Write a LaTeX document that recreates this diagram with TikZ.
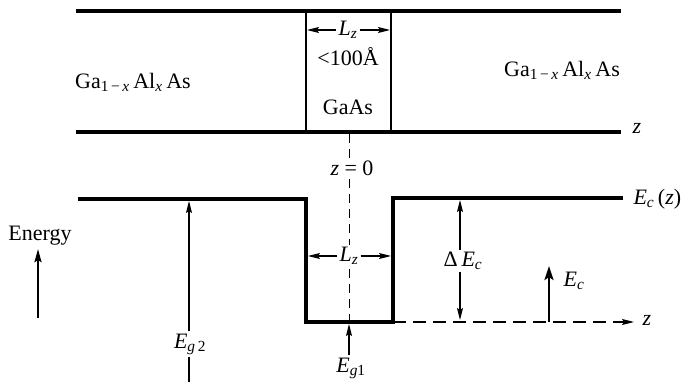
\documentclass[tikz,border=0pt]{standalone}
\usepackage{fontspec}
\setmainfont{Liberation Serif}
\usetikzlibrary{arrows.meta,calc}
\newcommand\mysub[1]{\textsubscript{#1}}
\begin{document}
\begin{tikzpicture}[x=1pt,y=-1pt,
  font=\fontsize{22}{24}\selectfont,
  band/.style={line width=3.3pt, line join=miter},
  wall/.style={line width=1.3pt},
  arr/.style={line width=1.2pt, -{Stealth[length=12pt,width=6pt,inset=2pt]}},
  lbl/.style={inner sep=2pt, fill=white},
  dashline/.style={line width=1pt, dash pattern=on 9pt off 6pt}]
\useasboundingbox (0,0) rectangle (686,382);
\fill[white] (0,0) rectangle (686,382);
% top layer structure
\coordinate (tl) at (76,11); \coordinate (tr) at (621,11);
\coordinate (bl) at (76,132); \coordinate (br) at (621,132);
\coordinate (w1t) at (306,11); \coordinate (w1b) at (306,132);
\coordinate (w2t) at (391,11); \coordinate (w2b) at (391,132);
\draw[band] (tl) -- (tr);
\draw[band] (bl) -- (br);
\draw[wall] (w1t) -- (w1b);
\draw[wall] (w2t) -- (w2b);
\node (gl) at (133,82) {Ga\mysub{1\,−\,\textit{x}}\,Al\mysub{\textit{x}}\,As};
\node (gr) at (562,70) {Ga\mysub{1\,−\,\textit{x}}\,Al\mysub{\textit{x}}\,As};
\node[lbl] (lz1) at (348,30) {\textit{L}\mysub{\textit{z}}};
\coordinate (a1l) at (307,30); \coordinate (a1r) at (390,30);
\draw[arr] (lz1.west) -- (a1l);
\draw[arr] (lz1.east) -- (a1r);
\node (ang) at (348,57) {<100Å};
\node (gaas) at (348,107) {GaAs};
\node (ztop) at (637,128) {\textit{z}};
% dashed z=0 line
\coordinate (d0t) at (349,134); \coordinate (d0b) at (349,322);
\draw[dashline] (d0t) -- (d0b);
\node[lbl] (z0) at (352,168) {\textit{z} = 0};
% band profile
\coordinate (p1) at (78,199); \coordinate (p2) at (306,199);
\coordinate (p3) at (306,322); \coordinate (p4) at (393,322);
\coordinate (p5) at (393,198); \coordinate (p6) at (623,198);
\draw[band] (p1) -- (p2) -- (p3) -- (p4) -- (p5) -- (p6);
\node[anchor=west] (ecz) at (630,199) {\textit{E}\mysub{\textit{c}}\,(\textit{z})};
% z axis dashed
\coordinate (zend) at (634,322);
\draw[line width=1.2pt, dash pattern=on 13pt off 7pt] (p4) -- ($(zend)+(-8,0)$);
\draw[arr] ($(zend)+(-4,0)$) -- (zend);
\node (zbot) at (647,320) {\textit{z}};
% well width
\node[lbl] (lz2) at (349,256) {\textit{L}\mysub{\textit{z}}};
\coordinate (a2l) at (308,256); \coordinate (a2r) at (391,256);
\draw[arr] (lz2.west) -- (a2l);
\draw[arr] (lz2.east) -- (a2r);
% Delta Ec
\node[lbl] (dec) at (463,261) {Δ\,\textit{E}\mysub{\textit{c}}};
\coordinate (dtop) at (460,200); \coordinate (dbot) at (460,320);
\draw[arr] (dtop |- dec.north) -- (dtop);
\draw[arr] (dbot |- dec.south) -- (dbot);
% Ec arrow
\coordinate (ecb) at (549,322); \coordinate (ect) at (549,266);
\draw[line width=2.6pt, -{Stealth[length=14pt,width=9pt,inset=3pt]}] (ecb) -- (ect);
\node (ec) at (574,281) {\textit{E}\mysub{\textit{c}}};
% Energy
\node (en) at (40,236) {Energy};
\coordinate (enb) at (38,318);
\draw[line width=2pt, -{Stealth[length=13pt,width=7pt,inset=2pt]}] (enb) -- (en.south -| enb);
% Eg2
\node[lbl] (eg2) at (190,344) {\textit{E}\mysub{\textit{g}\,2}};
\coordinate (eg2t) at (189,201); \coordinate (eg2b) at (189,382);
\draw[arr] (eg2t |- eg2.north) -- (eg2t);
\draw[line width=1.2pt] (eg2b |- eg2.south) -- (eg2b);
% Eg1
\node[lbl] (eg1) at (351,368) {\textit{E}\mysub{\textit{g}1}};
\coordinate (eg1t) at (349,324);
\draw[arr] (eg1t |- eg1.north) -- (eg1t);
\end{tikzpicture}
\end{document}
